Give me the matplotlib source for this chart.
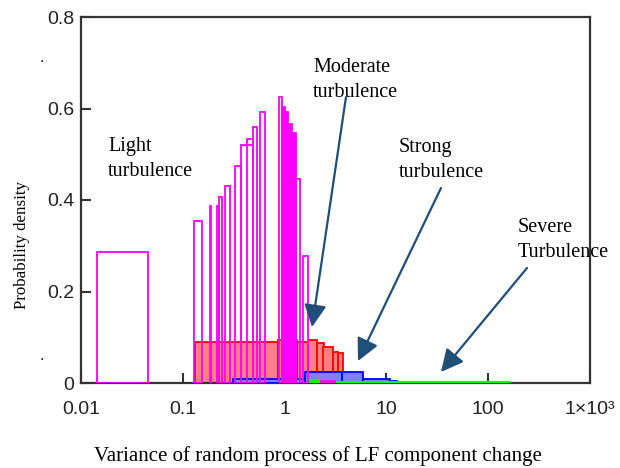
import matplotlib
matplotlib.use('Agg')
import matplotlib.pyplot as plt

# light turbulence (magenta, open bars): left edge, right edge, height
light_left = [0.0143, 0.129, 0.185, 0.218, 0.228, 0.260, 0.326, 0.373, 0.427, 0.486, 0.573, 0.887, 1.28, 1.527, 2.28]
light_right = [0.0454, 0.156, 0.191, 0.2258, 0.241, 0.291, 0.373, 0.489, 0.49, 0.539, 0.646, 0.937, 1.417, 1.686, 3.13]
light_h = [0.286, 0.354, 0.387, 0.387, 0.407, 0.431, 0.474, 0.520, 0.533, 0.559, 0.593, 0.626, 0.445, 0.278, 0.004]
# dense part of the light turbulence histogram
dense_left = [0.937, 1.009, 1.087, 1.174]
dense_right = [1.009, 1.087, 1.174, 1.28]
dense_h = [0.604, 0.593, 0.567, 0.546]

# moderate turbulence (red)
mod_left = [0.132, 0.867, 1.315, 1.709, 2.067, 2.40, 3.01, 3.37]
mod_right = [0.867, 1.315, 1.709, 2.067, 2.45, 3.01, 3.37, 3.77]
mod_h = [0.090, 0.094, 0.090, 0.094, 0.087, 0.079, 0.068, 0.065]

# strong turbulence (blue)
strong_left = [0.313, 1.586, 3.638, 5.93, 10.85]
strong_right = [1.586, 3.638, 5.93, 10.85, 12.6]
strong_h = [0.008, 0.023, 0.023, 0.0087, 0.0044]

# severe turbulence (green)
severe_left = [1.71, 2.2]
severe_right = [2.2, 164.0]
severe_h = [0.006, 0.003]

xticks = [0.01, 0.1, 1, 10, 100, 1000]
xtick_labels = ['0.01', '0.1', '1', '10', '100', '1×10³']
yticks = [0, 0.2, 0.4, 0.6, 0.8]
ytick_labels = ['0', '0.2', '0.4', '0.6', '0.8']

serif = 'Liberation Serif'
tickfont = ['Liberation Sans Narrow', 'Liberation Sans', 'DejaVu Sans']

fig = plt.figure(figsize=(6.2, 4.68), dpi=100)
ax = fig.add_axes([81/620, 1-383/468, (590-81)/620, (383-17)/468])
ax.set_xscale('log')


def draw(lefts, rights, hs, face, edge, lw, z):
    widths = [r - l for l, r in zip(lefts, rights)]
    ax.bar(lefts, hs, width=widths, align='edge', facecolor=face,
           edgecolor=edge, linewidth=lw, zorder=z)


draw(mod_left, mod_right, mod_h, '#ff8080', '#ff0000', 1.3, 2)
draw(strong_left, strong_right, strong_h, '#8080ff', '#0000ff', 1.3, 3)
draw(severe_left, severe_right, severe_h, 'none', '#00ff00', 1.5, 4)
draw(light_left, light_right, light_h, 'none', '#ff00ff', 1.3, 5)
draw(dense_left, dense_right, dense_h, '#ff00ff', '#ff00ff', 1.3, 5)

ax.set_xlim(0.01, 1000)
ax.set_ylim(0, 0.8)
ax.set_xticks(xticks)
ax.set_xticklabels(xtick_labels, family=tickfont, fontsize=14)
ax.minorticks_off()
ax.set_yticks(yticks)
ax.set_yticklabels(ytick_labels, family=tickfont, fontsize=14)
ax.tick_params(direction='in', length=7, width=1.5, colors='#333333',
               labelcolor='#222222')
ax.tick_params(axis='x', pad=13)
ax.tick_params(axis='y', pad=5)
for s in ax.spines.values():
    s.set_linewidth(1.6)
    s.set_color('#333333')


def ftext(px, py, s):
    fig.text(px/620, 1-py/468, s, family=serif, fontsize=14.5, ha='left',
             va='center', linespacing=1.45)


ftext(108, 159, 'Light\nturbulence')
ftext(313, 80, 'Moderate\nturbulence')
ftext(399, 160, 'Strong\nturbulence')
ftext(518, 240, 'Severe\nTurbulence')

arrow_col = '#1f4e79'


def farrow(x0, y0, x1, y1):
    ax.annotate('', xy=(x1/620, 1-y1/468), xycoords='figure fraction',
                xytext=(x0/620, 1-y0/468), textcoords='figure fraction',
                arrowprops=dict(arrowstyle='-|>', color=arrow_col, lw=1.6,
                                mutation_scale=34, shrinkA=0, shrinkB=0),
                zorder=10)


farrow(346, 97, 312, 327)
farrow(441, 188, 358, 361)
farrow(527, 268, 441, 372)

fig.text(22/620, 1-245/468, 'Probability density', family=serif, fontsize=12.2,
         rotation=90, ha='center', va='center')
fig.text(318/620, 1-456/468, 'Variance of random process of LF component change',
         family=serif, fontsize=15, ha='center', va='center')
fig.text(42/620, 1-58/468, '.', fontsize=10, ha='center', va='center')
fig.text(42/620, 1-356/468, '.', fontsize=10, ha='center', va='center')

fig.savefig('out.png', dpi=100)
